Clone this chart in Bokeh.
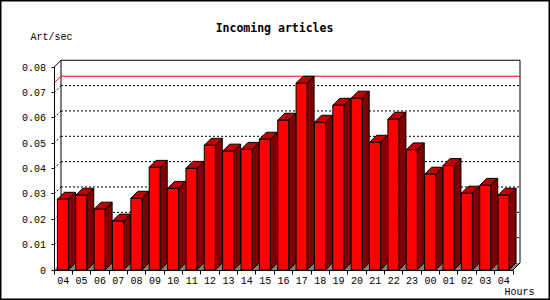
from bokeh.plotting import figure
from bokeh.models import Range1d, LinearAxis, FixedTicker
from bokeh.core.properties import value
from bokeh.embed import file_html
from bokeh.resources import INLINE

hours = ["04", "05", "06", "07", "08", "09", "10", "11", "12", "13", "14", "15", "16",
         "17", "18", "19", "20", "21", "22", "23", "00", "01", "02", "03", "04"]
rates = [0.0279, 0.0295, 0.0240, 0.0193, 0.0283, 0.0405, 0.0322, 0.0401, 0.0492,
         0.0469, 0.0476, 0.0516, 0.0591, 0.0737, 0.0583, 0.0650, 0.0678, 0.0504,
         0.0595, 0.0474, 0.0378, 0.0412, 0.0303, 0.0334, 0.0295]
y_ticks = [0.0, 0.01, 0.02, 0.03, 0.04, 0.05, 0.06, 0.07, 0.08]
y_tick_labels = ["0", "0.01", "0.02", "0.03", "0.04", "0.05", "0.06", "0.07", "0.08"]
title = "Incoming articles"
y_title = "Art/sec"
x_title = "Hours"

n = len(hours)
W, H = 550, 300
PXX = 18.36          # px per category
PXY = 2534.0         # px per unit value
X0, Y0 = 53.5, 269.5  # pixel position of data origin
dx = 7 / PXX
dy = 7 / PXY
ymax = y_ticks[-1]


def px_x(sx):
    return (sx - X0) / PXX


def px_y(sy):
    return (Y0 - sy) / PXY


p = figure(width=W, height=H, output_backend="svg", toolbar_location=None,
           x_range=Range1d(px_x(0), px_x(W)), y_range=Range1d(px_y(H), px_y(0)),
           min_border=0, x_axis_location=None, y_axis_location=None)
p.outline_line_color = "black"
p.outline_line_width = 2
p.xgrid.visible = False
p.ygrid.visible = False
p.background_fill_color = "white"
p.border_fill_color = "white"

FONT = "Liberation Mono"
TFONT = "DejaVu Sans Mono"

# back wall and left wall outlines
p.line([dx, dx + n, dx + n], [ymax + dy, ymax + dy, dy], color="black", line_width=1)
p.line([dx, dx], [dy, ymax + dy], color="black", line_width=1)
p.line([0, dx], [ymax, ymax + dy], color="black", line_width=1)

# dotted gridlines on the back wall and left wall
for t in y_ticks[1:-1]:
    p.line([dx, dx + n], [t + dy, t + dy], color="black", line_dash="2 2", line_width=1)
    p.line([0, dx], [t, t + dy], color="black", line_dash="2 2", line_width=1)

# maximum line
vmax = max(rates)
p.line([0, dx, dx + n], [vmax, vmax + dy, vmax + dy], color="red", line_width=1)

# floor
p.patch([0, n, n + dx, dx], [0, 0, dy, dy], fill_color="#808080", line_color=None)
p.line([n, n + dx], [0, dy], color="black", line_width=1)

# 3D bars
off, bw = 0.185, 0.6
fx, fy, sx, sy, tx, ty = [], [], [], [], [], []
for i, v in enumerate(rates):
    x0 = i + off
    x1 = x0 + bw
    fx.append([x0, x1, x1, x0]); fy.append([0, 0, v, v])
    sx.append([x1, x1 + dx, x1 + dx, x1]); sy.append([0, dy, v + dy, v])
    tx.append([x0, x1, x1 + dx, x0 + dx]); ty.append([v, v, v + dy, v + dy])
p.patches(sx, sy, fill_color="#800000", line_color="black", line_width=1)
p.patches(tx, ty, fill_color="#C00000", line_color="black", line_width=1)
p.patches(fx, fy, fill_color="#FF0000", line_color="black", line_width=1)

# axes
yaxis = LinearAxis(ticker=FixedTicker(ticks=y_ticks), bounds=(0, ymax), fixed_location=0)
yaxis.major_label_overrides = {t: s for t, s in zip(y_ticks, y_tick_labels)}
yaxis.major_tick_out = 3
yaxis.major_tick_in = 0
yaxis.minor_tick_line_color = None
yaxis.major_label_standoff = 5
yaxis.major_label_text_font = FONT
yaxis.major_label_text_font_size = "10px"
yaxis.major_label_text_color = "black"
yaxis.axis_line_color = "black"
p.add_layout(yaxis, "left")

centers = [i + 0.5 for i in range(n)]
bounds = [float(i) for i in range(n + 1)]
xaxis = LinearAxis(ticker=FixedTicker(ticks=centers, minor_ticks=bounds), bounds=(0, n),
                   fixed_location=0)
xaxis.major_label_overrides = {c: h for c, h in zip(centers, hours)}
xaxis.major_tick_line_color = None
xaxis.major_tick_out = 0
xaxis.major_tick_in = 0
xaxis.minor_tick_out = 4
xaxis.minor_tick_in = 0
xaxis.minor_tick_line_color = "black"
xaxis.major_label_standoff = 3
xaxis.major_label_text_font = FONT
xaxis.major_label_text_font_size = "10px"
xaxis.major_label_text_color = "black"
xaxis.axis_line_color = "black"
p.add_layout(xaxis, "below")

# texts
p.text(x=[px_x(274)], y=[px_y(27)], text=[title], text_align="center",
       text_baseline="middle", text_font=value(TFONT), text_font_style="bold",
       text_font_size="11.5px", text_color="black")
p.text(x=[px_x(30)], y=[px_y(37)], text=[y_title], text_align="left",
       text_baseline="middle", text_font=value(FONT), text_font_size="10px",
       text_color="black")
p.text(x=[px_x(504)], y=[px_y(292)], text=[x_title], text_align="left",
       text_baseline="middle", text_font=value(FONT), text_font_size="10px",
       text_color="black")

open("out.html", "w").write(file_html(p, INLINE))
